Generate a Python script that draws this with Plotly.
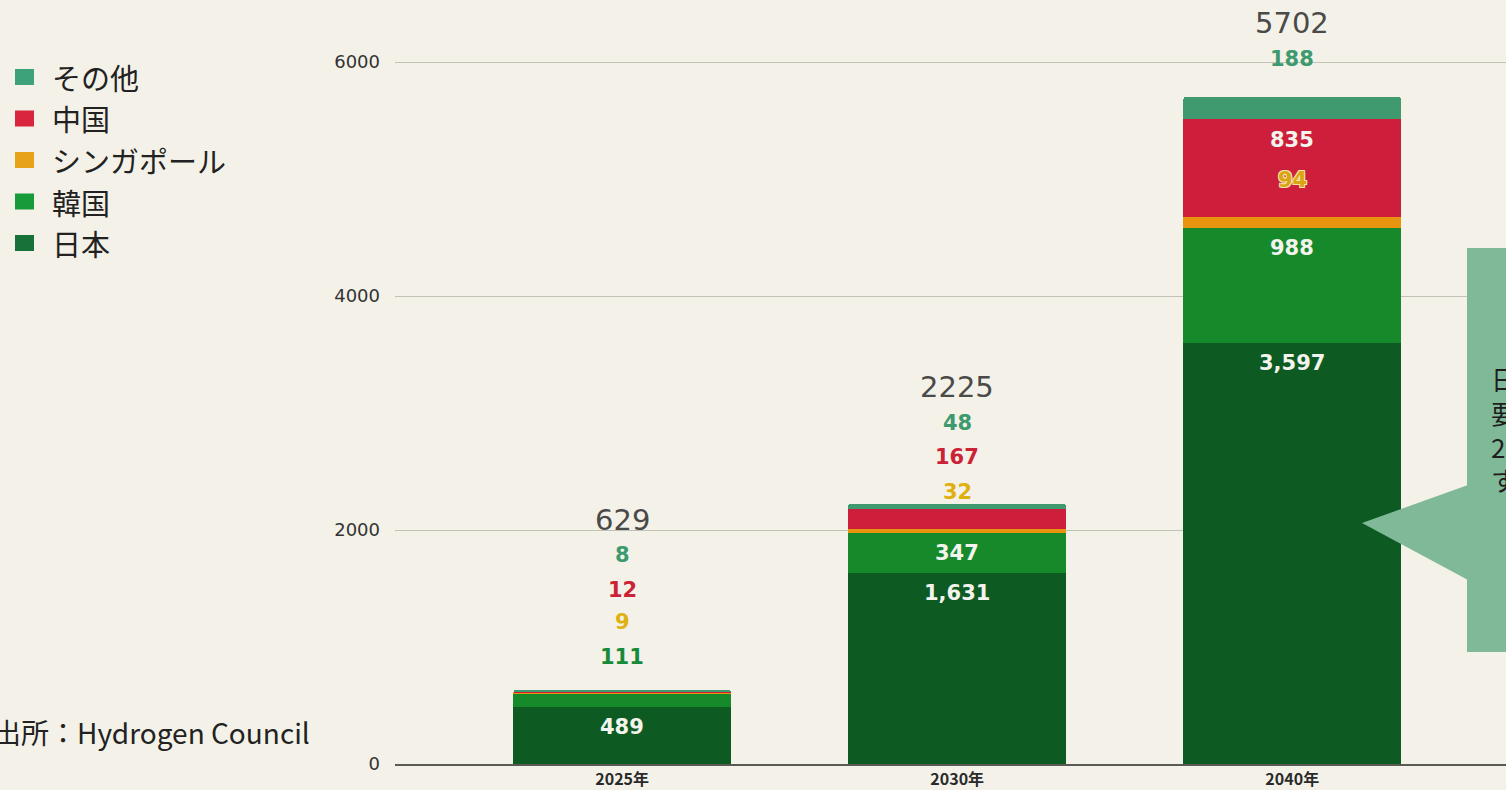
import plotly.graph_objects as go

# Hydrogen demand by market (stacked), source: Hydrogen Council
years = ["2025年", "2030年", "2040年"]
series_names = ["日本", "韓国", "シンガポール", "中国", "その他"]
japan = [489, 1631, 3597]
korea = [111, 347, 988]
singapore = [9, 32, 94]
china = [12, 167, 835]
others = [8, 48, 188]
y_ticks = [0, 2000, 4000, 6000]

series_values = [japan, korea, singapore, china, others]
bar_colors = ["#0d5b22", "#168a2b", "#e8940f", "#cd1f3b", "#3f9b6f"]
legend_colors = ["#17723a", "#179a3a", "#e8a21a", "#d9253e", "#3da17a"]
label_colors = ["#ffffff", "#168a3a", "#e0b010", "#cc2236", "#3d9a6e"]

BG = "#f4f2e8"
PX_PER_UNIT = 0.117          # vertical scale of the plot
PLOT_BOTTOM = 764            # pixel row of the zero line
Y_MAX = PLOT_BOTTOM / PX_PER_UNIT

fig = go.Figure()
for name, vals, col in zip(series_names, series_values, bar_colors):
    fig.add_trace(go.Bar(
        x=years, y=vals, name=name, marker=dict(color=col, line=dict(width=0)),
        width=0.65, showlegend=False, hoverinfo="skip",
    ))

# cumulative tops of every segment
tops = []
acc = [0, 0, 0]
for vals in series_values:
    acc = [a + v for a, v in zip(acc, vals)]
    tops.append(list(acc))
totals = tops[-1]

num_font = dict(family="DejaVu Sans", size=21, weight="bold")
annotations = []

# placement of each value label: ("in", px below segment top) or ("up", px above bar top)
placement = {
    0: {0: ("in", 20), 1: ("in", 20), 2: ("in", 20)},
    1: {0: ("up", 33), 1: ("in", 20), 2: ("in", 20)},
    2: {0: ("up", 68), 1: ("up", 12), 2: ("seg", 37)},
    3: {0: ("up", 100), 1: ("up", 47), 2: ("in", 21)},
    4: {0: ("up", 135), 1: ("up", 81), 2: ("up", 38)},
}
total_offset = [170, 117, 74]

for si, vals in enumerate(series_values):
    for ci, v in enumerate(vals):
        mode, off = placement[si][ci]
        txt = f"{v:,}"
        color = label_colors[si]
        shadow = "none"
        if mode == "in":
            y, shift, color = tops[si][ci], -off, "#f4f4ee"
        elif mode == "seg":
            y, shift = tops[si][ci], off
            color = "#d9a514"
            shadow = "1px 1px 0 #f3e4a6, -1px -1px 0 #f3e4a6, 1px -1px 0 #f3e4a6, -1px 1px 0 #f3e4a6"
        else:
            y, shift = totals[ci], off
        annotations.append(dict(
            x=years[ci], y=y, yshift=shift, text=txt, showarrow=False,
            xanchor="center", yanchor="middle",
            font=dict(**num_font, color=color, shadow=shadow),
        ))

for ci, t in enumerate(totals):
    annotations.append(dict(
        x=years[ci], y=t, yshift=total_offset[ci], text=str(t), showarrow=False,
        xanchor="center", yanchor="middle",
        font=dict(family="DejaVu Sans", size=29, color="#4a4a48"),
    ))


def px_x(px):
    return (px - 395) / 1111


def px_y(py):
    return (764 - py) / 764


# legend (top entry is the top of the stack)
shapes = []
leg_top = 77
leg_step = 41.5
for i, si in enumerate(reversed(range(len(series_names)))):
    yc = leg_top + i * leg_step
    shapes.append(dict(
        type="rect", xref="paper", yref="paper",
        x0=px_x(15), x1=px_x(34), y0=px_y(yc + 8), y1=px_y(yc - 8),
        fillcolor=legend_colors[si], line=dict(width=0), layer="above",
    ))
    annotations.append(dict(
        xref="paper", yref="paper", x=px_x(50), y=px_y(yc),
        text=series_names[si], showarrow=False, xanchor="left", yanchor="middle",
        font=dict(family="Noto Sans CJK JP", size=29, color="#222222"),
    ))

# source note
annotations.append(dict(
    xref="paper", yref="paper", x=px_x(-9), y=px_y(732),
    text="出所：Hydrogen Council", showarrow=False, xanchor="left", yanchor="middle",
    font=dict(family="Noto Sans CJK JP", size=28, color="#222222"),
))

# callout box with a pointer toward the 2040 bar
call_col = "#80b998"
shapes.append(dict(
    type="rect", xref="paper", yref="paper",
    x0=px_x(1467), x1=px_x(1560), y0=px_y(652), y1=px_y(248),
    fillcolor=call_col, line=dict(width=0), layer="above",
))
shapes.append(dict(
    type="path", xref="paper", yref="paper",
    path=(f"M {px_x(1468)} {px_y(485)} L {px_x(1362)} {px_y(523)} "
          f"L {px_x(1468)} {px_y(580)} Z"),
    fillcolor=call_col, line=dict(width=0), layer="above",
))
annotations.append(dict(
    xref="paper", yref="paper", x=px_x(1489), y=px_y(429),
    text="日<br>要<br>2<br>す", showarrow=False, xanchor="left", yanchor="middle",
    align="left", font=dict(family="Noto Sans CJK JP", size=26, color="#1e1e1e"),
))

fig.update_layout(
    barmode="stack",
    barcornerradius=3,
    width=1506, height=790,
    margin=dict(l=395, r=0, t=0, b=26, pad=0, autoexpand=False),
    paper_bgcolor=BG, plot_bgcolor=BG,
    annotations=annotations, shapes=shapes,
    xaxis=dict(
        type="category", range=[-0.678, 2.638], showgrid=False,
        showline=True, linecolor="#5a5a55", linewidth=1.5,
        ticks="", tickfont=dict(family="Noto Sans CJK JP", size=16, weight="bold", color="#2a2a2a"),
        ticklabelstandoff=0, fixedrange=True, automargin=False,
    ),
    yaxis=dict(
        range=[0, Y_MAX], tickvals=y_ticks, ticktext=[str(v) for v in y_ticks],
        showgrid=True, gridcolor="#bfc4b4", gridwidth=1, zeroline=False,
        tickfont=dict(family="DejaVu Sans", size=18, color="#333333"),
        ticks="", ticklabelstandoff=14, fixedrange=True, automargin=False,
    ),
    font=dict(family="Noto Sans CJK JP"),
)

fig.write_html("out.html")
